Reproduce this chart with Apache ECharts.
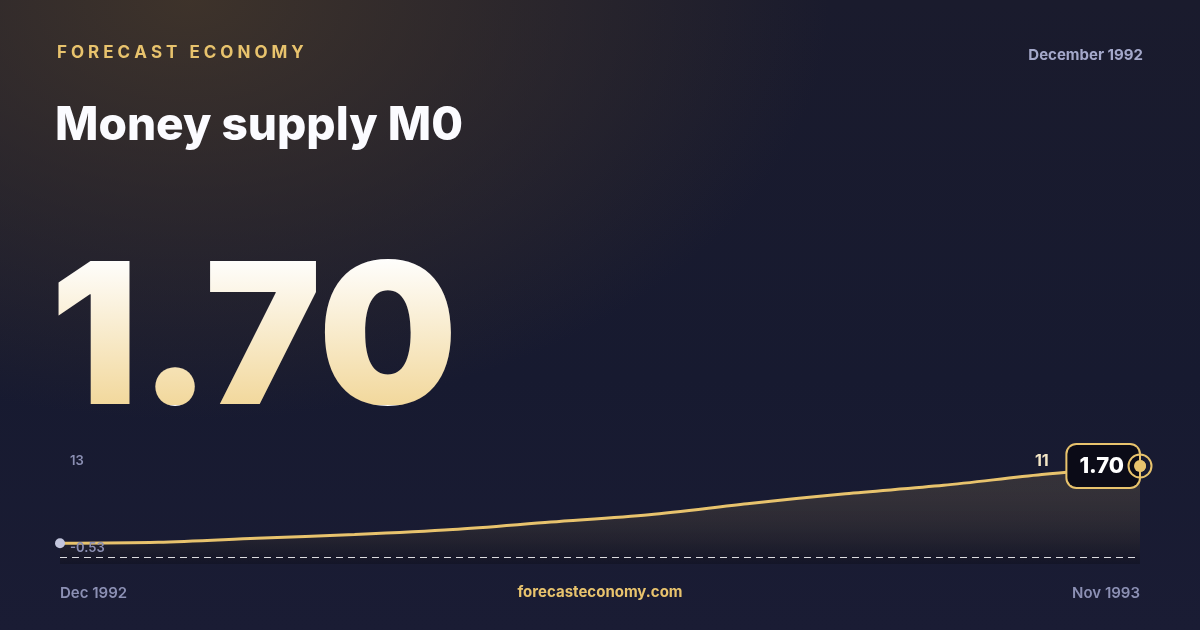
<!DOCTYPE html>
<html>
<head>
<meta charset="utf-8">
<script src="https://cdn.jsdelivr.net/npm/echarts@6/dist/echarts.min.js"></script>
<style>
html,body{margin:0;padding:0;width:1200px;height:630px;overflow:hidden;}
#c{width:1200px;height:630px;
background:
 radial-gradient(ellipse 640px 420px at 190px 0px, rgba(68,55,42,0.85), rgba(68,55,42,0) 100%),
 linear-gradient(180deg,#1a1b2d 0%,#171a30 60%,#1a1c34 100%);}
</style>
</head>
<body>
<div id="c"></div>
<script>
// ---- data ----
const categories = ['Dec 1992','Jan 1993','Feb 1993','Mar 1993','Apr 1993','May 1993','Jun 1993','Jul 1993','Aug 1993','Sep 1993','Oct 1993','Nov 1993'];
const values = [-0.53, -0.37, 0.29, 0.92, 1.74, 2.97, 4.17, 5.98, 7.62, 9.0, 10.78, 12.18];
const yTickLabels = [13, -0.53];
const headline = '1.70';
const brand = 'FORECAST ECONOMY';
const title = 'Money supply M0';
const periodLabel = 'December 1992';
const site = 'forecasteconomy.com';
const baselineValue = -2.83;

const GOLD = '#e8c36d';
const chart = echarts.init(document.getElementById('c'), null, {renderer:'canvas'});

const lastIdx = values.length - 1;
const seriesData = values.map((v, i) => {
  if (i === 0) return {value: v, symbol: 'circle', symbolSize: 10, itemStyle: {color: '#c3c6dd'}};
  if (i === lastIdx) return {
    value: v, symbol: 'circle', symbolSize: 12, itemStyle: {color: GOLD},
    label: {
      show: true, position: 'left', distance: 5, offset: [10, 0],
      formatter: headline,
      color: '#ffffff', fontFamily: 'Inter', fontWeight: 800, fontSize: 22,
      backgroundColor: '#0b0b17', borderColor: GOLD, borderWidth: 2, borderRadius: 9,
      padding: [11, 15, 9, 12]
    }
  };
  if (i === lastIdx - 1) return {
    value: v, symbol: 'circle', symbolSize: 1, itemStyle: {color: 'rgba(0,0,0,0)'},
    label: {show: true, position: 'top', distance: 5, formatter: p => String(Math.round(p.value)),
      color: '#f3e6c6', fontFamily: 'Inter', fontWeight: 700, fontSize: 16}
  };
  return {value: v, symbol: 'none'};
});

const option = {
  backgroundColor: 'transparent',
  animation: false,
  grid: {left: 60, right: 60, top: 461, bottom: 66},
  xAxis: {
    type: 'category', data: categories, boundaryGap: false,
    axisLine: {show: false}, axisTick: {show: false}, splitLine: {show: false},
    axisLabel: {
      interval: (i) => i === 0 || i === lastIdx,
      alignMinLabel: 'left', alignMaxLabel: 'right',
      margin: 22, color: '#8c90b4', fontFamily: 'Inter', fontWeight: 600, fontSize: 15
    }
  },
  yAxis: {
    type: 'value', min: -3.93, max: 13, z: 10, zlevel: 0,
    axisLine: {show: false}, axisTick: {show: false}, splitLine: {show: false},
    axisLabel: {
      customValues: yTickLabels, inside: true, margin: 10,
      formatter: v => (v < 0 ? '{lo|' + v + '}' : '{hi|' + v + '}'),
      rich: {
        lo: {color: '#8c90b4', fontFamily: 'Inter', fontWeight: 600, fontSize: 13, padding: [10, 0, 0, 0]},
        hi: {color: '#8c90b4', fontFamily: 'Inter', fontWeight: 600, fontSize: 13}
      },
      color: '#8c90b4', fontFamily: 'Inter', fontWeight: 600, fontSize: 13
    }
  },
  series: [{
    type: 'line', data: seriesData, smooth: 0.3, z: 2,
    lineStyle: {color: GOLD, width: 3},
    areaStyle: {
      origin: 'start',
      color: new echarts.graphic.LinearGradient(0, 0, 0, 1, [
        {offset: 0, color: 'rgba(232,195,109,0.20)'},
        {offset: 1, color: 'rgba(8,8,16,0.45)'}
      ])
    },
    markLine: {
      silent: true, symbol: 'none', label: {show: false},
      lineStyle: {color: 'rgba(255,255,255,0.85)', type: [7, 5], width: 1},
      data: [{yAxis: baselineValue}]
    },
    markPoint: {
      silent: true, z: 10,
      data: [
        {coord: [lastIdx, values[lastIdx]], symbol: 'circle', symbolSize: 23,
          itemStyle: {color: 'rgba(0,0,0,0)', borderColor: GOLD, borderWidth: 2},
          label: {show: false}},
        {coord: [lastIdx, values[lastIdx]], symbol: 'circle', symbolSize: 12,
          itemStyle: {color: GOLD}, label: {show: false}}
      ]
    }
  }],
  graphic: [
    {type: 'text', left: 57, top: 44, style: {text: brand.split('').join('\u2009\u200A'), fill: GOLD,
      font: '700 17px Inter'}},
    {type: 'text', right: 57, top: 48, style: {text: periodLabel, fill: '#a4a8ca',
      font: '700 15px Inter'}},
    {type: 'text', left: 55, top: 103, style: {text: title, fill: '#fbfbff',
      font: '800 46px Inter'}},
    {type: 'text', left: 50, top: 247, zlevel: 1, z: 100, style: {text: headline,
      font: '900 196px Inter', fill: '#ffffff'}},
    {type: 'rect', zlevel: 1, z: 101, shape: {x: 30, y: 255, width: 460, height: 150},
      style: {blend: 'source-atop',
        fill: new echarts.graphic.LinearGradient(0, 0, 0, 1, [
          {offset: 0, color: '#ffffff'}, {offset: 1, color: '#f2d89c'}
        ])}},
    {type: 'text', left: 'center', top: 585, style: {text: site, fill: GOLD,
      font: '700 15px Inter'}}
  ]
};
chart.setOption(option);
</script>
</body>
</html>
